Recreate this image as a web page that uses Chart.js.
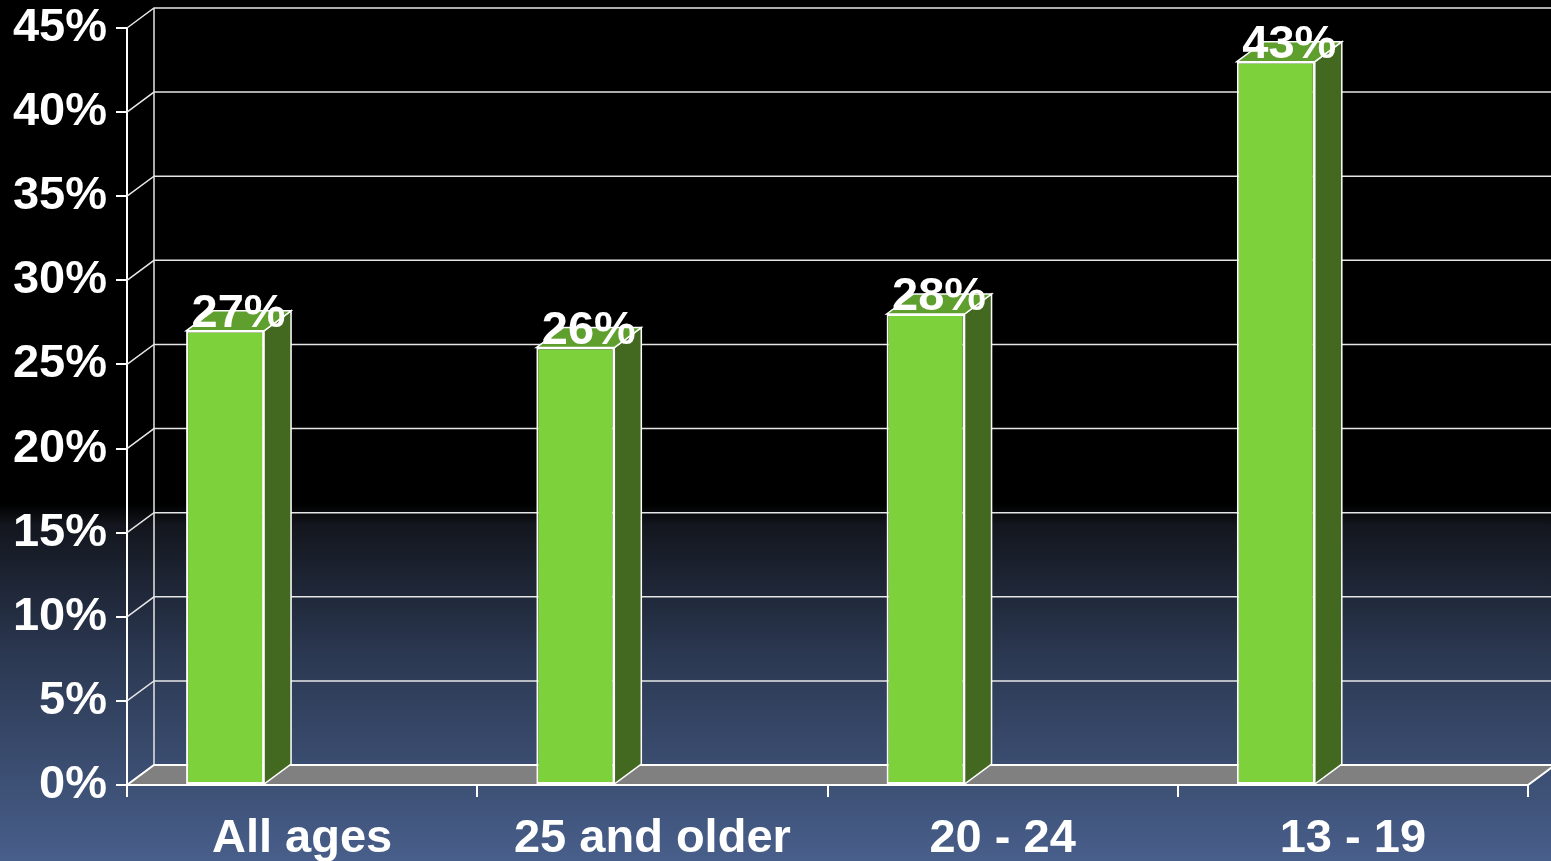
<!DOCTYPE html>
<html>
<head>
<meta charset="utf-8">
<script src="https://cdn.jsdelivr.net/npm/chart.js@4.4.0/dist/chart.umd.min.js"></script>
<style>
  html, body { margin: 0; padding: 0; background: #000; }
</style>
</head>
<body>
<canvas id="chart" width="1551" height="861"></canvas>
<script>
// data
const categories = ['All ages', '25 and older', '20 - 24', '13 - 19'];
const shares = [27, 26, 28, 43];
const yMin = 0;
const yMax = 45;
const yStep = 5;

// depth of the fake 3D box (px)
const DX = 27;
const DY = 20;
const FONT = 'Liberation Sans, Arial, sans-serif';

const scene3d = {
  id: 'scene3d',

  beforeDraw(chart) {
    const { ctx, width, height } = chart;
    const g = ctx.createLinearGradient(0, 0, 0, height);
    g.addColorStop(0, '#000000');
    g.addColorStop(0.585, '#000000');
    g.addColorStop(0.61, '#13161e');
    g.addColorStop(0.76, '#2b3851');
    g.addColorStop(1, '#485f8b');
    ctx.save();
    ctx.fillStyle = g;
    ctx.fillRect(0, 0, width, height);
    ctx.restore();
  },

  beforeDatasetsDraw(chart) {
    const { ctx, chartArea: a, scales: { y } } = chart;
    ctx.save();
    ctx.strokeStyle = '#e6e6e6';
    ctx.lineWidth = 1.5;

    // back wall grid + side wall diagonals
    for (let v = yMin; v <= yMax; v += yStep) {
      const py = y.getPixelForValue(v);
      ctx.beginPath();
      ctx.moveTo(a.left, py);
      ctx.lineTo(a.left + DX, py - DY);
      ctx.lineTo(chart.width, py - DY);
      ctx.stroke();
    }
    ctx.beginPath();
    ctx.moveTo(a.left + DX, a.top - DY);
    ctx.lineTo(a.left + DX, a.bottom - DY);
    ctx.stroke();

    // floor
    ctx.beginPath();
    ctx.moveTo(a.left, a.bottom);
    ctx.lineTo(a.right, a.bottom);
    ctx.lineTo(a.right + DX, a.bottom - DY);
    ctx.lineTo(a.left + DX, a.bottom - DY);
    ctx.closePath();
    ctx.fillStyle = '#808080';
    ctx.fill();
    ctx.strokeStyle = '#ffffff';
    ctx.lineWidth = 2;
    ctx.stroke();
    ctx.restore();
  },

  afterDatasetsDraw(chart) {
    const { ctx } = chart;
    const meta = chart.getDatasetMeta(0);
    ctx.save();
    ctx.strokeStyle = '#ffffff';
    ctx.lineWidth = 1.5;
    meta.data.forEach((bar, i) => {
      const { x, y, base, width } = bar.getProps(['x', 'y', 'base', 'width'], true);
      const l = x - width / 2;
      const r = x + width / 2;

      // right side
      ctx.beginPath();
      ctx.moveTo(r, y);
      ctx.lineTo(r + DX, y - DY);
      ctx.lineTo(r + DX, base - DY);
      ctx.lineTo(r, base);
      ctx.closePath();
      ctx.fillStyle = '#42691f';
      ctx.fill();
      ctx.stroke();

      // top
      ctx.beginPath();
      ctx.moveTo(l, y);
      ctx.lineTo(l + DX, y - DY);
      ctx.lineTo(r + DX, y - DY);
      ctx.lineTo(r, y);
      ctx.closePath();
      ctx.fillStyle = '#5e9f2e';
      ctx.fill();
      ctx.stroke();

      // value label
      ctx.fillStyle = '#ffffff';
      ctx.font = 'bold 47px ' + FONT;
      ctx.textAlign = 'center';
      ctx.textBaseline = 'alphabetic';
      ctx.fillText(shares[i] + '%', x + DX / 2, y - 4);
    });
    ctx.restore();
  }
};

new Chart(document.getElementById('chart'), {
  type: 'bar',
  data: {
    labels: categories,
    datasets: [
      {
        data: shares,
        backgroundColor: '#7dd13b',
        borderColor: '#ffffff',
        borderWidth: 2,
        borderSkipped: false,
        categoryPercentage: 0.88,
        barPercentage: 0.506
      },
      {
        // empty slot so the bars sit left of the category centre, as in the original
        data: categories.map(() => null),
        categoryPercentage: 0.88,
        barPercentage: 0.506
      }
    ]
  },
  options: {
    responsive: false,
    animation: false,
    layout: { padding: { top: 28, right: 23, left: 0, bottom: 0 } },
    plugins: {
      legend: { display: false },
      tooltip: { enabled: false }
    },
    scales: {
      x: {
        offset: true,
        grid: {
          offset: true,
          drawOnChartArea: false,
          tickLength: 12,
          color: '#ffffff',
          lineWidth: 2
        },
        border: { color: '#ffffff', width: 2 },
        ticks: {
          color: '#ffffff',
          font: { family: FONT, weight: 'bold', size: 47 },
          padding: 14,
          maxRotation: 0,
          autoSkip: false
        },
        afterFit(scale) { scale.height = 76; }
      },
      y: {
        min: yMin,
        max: yMax,
        grid: {
          drawOnChartArea: false,
          tickLength: 11,
          color: '#ffffff',
          lineWidth: 2
        },
        border: { color: '#ffffff', width: 2 },
        ticks: {
          stepSize: yStep,
          color: '#ffffff',
          font: { family: FONT, weight: 'bold', size: 47, lineHeight: 0.8 },
          padding: 9,
          callback: v => v + '%'
        },
        afterFit(scale) { scale.width = 127; }
      }
    }
  },
  plugins: [scene3d]
});
</script>
</body>
</html>
